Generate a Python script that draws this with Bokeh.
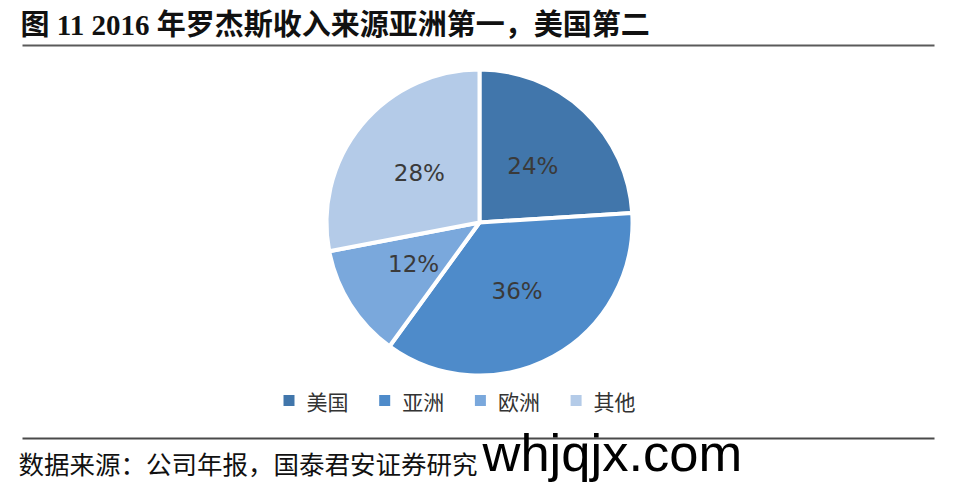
import math
from bokeh.plotting import figure
from bokeh.models import Range1d, ColumnDataSource
from bokeh.core.properties import value
from bokeh.embed import file_html
from bokeh.resources import INLINE

# ---- data ----
categories = ["美国", "亚洲", "欧洲", "其他"]
shares = [24, 36, 12, 28]
colors = ["#4176ab", "#4e8bca", "#7aa8dc", "#b4cbe8"]
title_text = "图 11 2016 年罗杰斯收入来源亚洲第一，美国第二"
source_text = "数据来源：公司年报，国泰君安证券研究"
watermark = "whjqjx.com"

W, H = 960, 483
def px(x):  # page x -> data x
    return x
def py(y):  # page y -> data y
    return H - y

p = figure(width=W, height=H, output_backend="svg", toolbar_location=None,
           x_range=Range1d(0, W), y_range=Range1d(0, H),
           x_axis_location=None, y_axis_location=None, min_border=0)
p.outline_line_color = None
p.grid.visible = False
p.background_fill_color = "white"

# ---- pie ----
cx, cy, R = px(479), py(222), 153
total = float(sum(shares))
starts, ends, lx, ly, labels = [], [], [], [], []
cum = 0.0
for s in shares:
    a0 = math.pi / 2 - cum / total * 2 * math.pi
    a1 = math.pi / 2 - (cum + s) / total * 2 * math.pi
    starts.append(a0)
    ends.append(a1)
    mid = (a0 + a1) / 2
    lx.append(cx + 0.51 * R * math.cos(mid))
    ly.append(cy + 0.51 * R * math.sin(mid))
    labels.append(f"{s}%")
    cum += s

src = ColumnDataSource(dict(start=starts, end=ends, color=colors, cat=categories))
p.wedge(x=cx, y=cy, radius=R, start_angle="start", end_angle="end",
        direction="clock", fill_color="color", line_color="white",
        line_width=4, source=src)

p.text(x=lx, y=ly, text=labels, text_align="center", text_baseline="middle",
       text_font=value("DejaVu Sans"), text_font_size="23px", text_color="#3a3a3a")

# ---- title & rules ----
p.text(x=[px(20)], y=[py(24)], text=[title_text], text_align="left",
       text_baseline="middle", text_font=value("Liberation Serif, Noto Sans CJK SC"),
       text_font_style="bold", text_font_size="29px", text_color="#111111")
p.segment(x0=[px(22)], y0=[py(45)], x1=[px(934)], y1=[py(45)],
          line_color="#5a5a5a", line_width=2)
p.segment(x0=[px(22)], y0=[py(438)], x1=[px(934)], y1=[py(438)],
          line_color="#4a4a4a", line_width=2)

# ---- legend ----
leg_x0, leg_step, leg_y = 283, 95.7, 400
sq_x = [px(leg_x0 + i * leg_step) + 5.5 for i in range(len(categories))]
sq_y = [py(leg_y)] * len(categories)
p.rect(x=sq_x, y=sq_y, width=11, height=11, fill_color=colors, line_color=None)
p.text(x=[px(leg_x0 + i * leg_step) + 23 for i in range(len(categories))], y=sq_y,
       text=categories, text_align="left", text_baseline="middle",
       text_font=value("Noto Sans CJK SC"), text_font_size="21px",
       text_color="#333333")

# ---- source ----
p.text(x=[px(18)], y=[py(462)], text=[source_text], text_align="left",
       text_baseline="middle", text_font=value("Noto Sans CJK SC"),
       text_font_size="25.5px", text_color="#111111")

# ---- watermark ----
p.text(x=[px(482)], y=[py(452)], text=[watermark], text_align="left",
       text_baseline="alphabetic", text_font=value("Liberation Sans"),
       text_font_size="52.5px", text_color="#000000")

open("out.html", "w").write(file_html(p, INLINE))
